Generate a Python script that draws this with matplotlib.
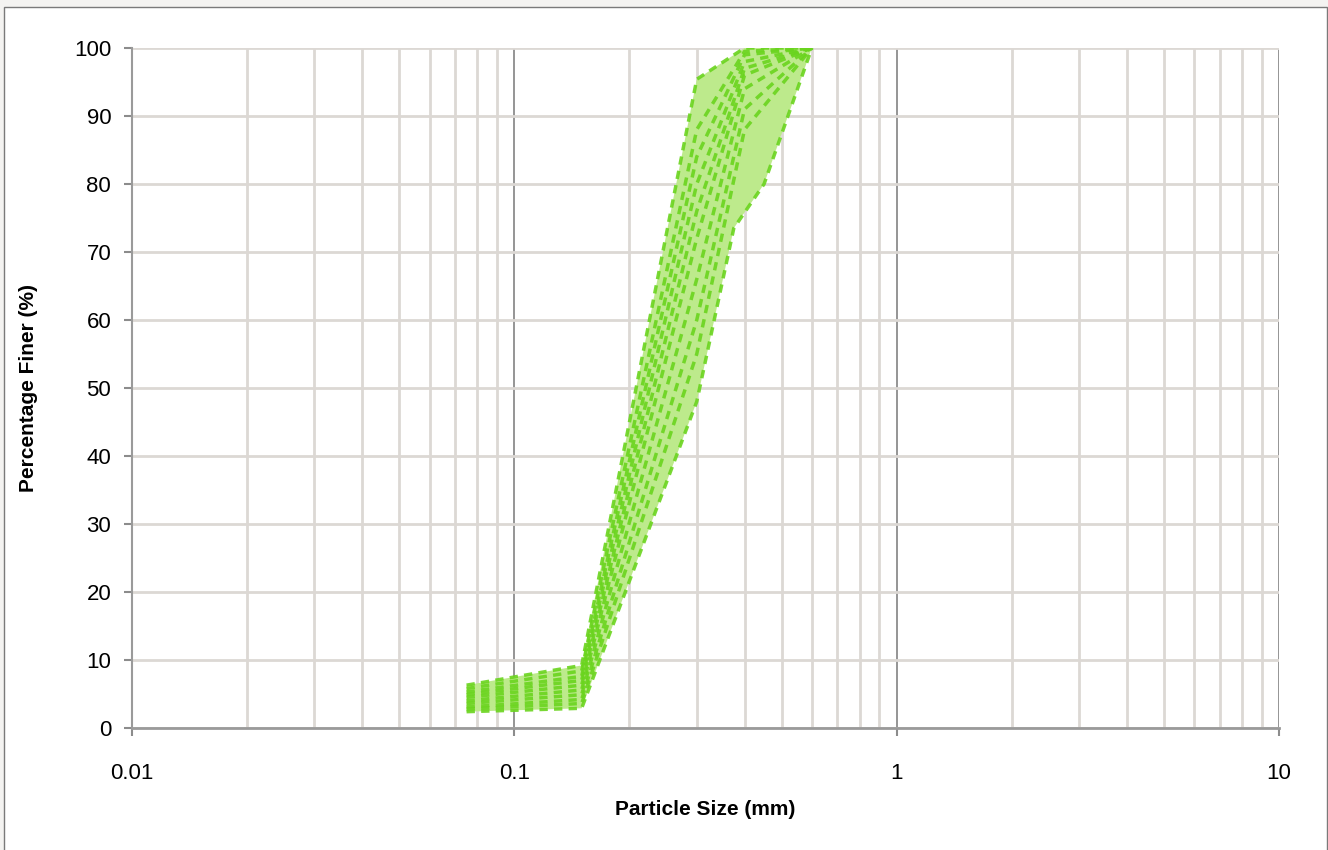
import matplotlib

matplotlib.use("Agg")
import matplotlib.pyplot as plt
from matplotlib.patches import Rectangle
from matplotlib.ticker import FixedLocator, NullFormatter


plt.rcParams["font.family"] = ["Liberation Sans", "DejaVu Sans"]

# sieve sizes (mm) shared by most samples
SIEVE_MM = [0.075, 0.15, 0.3, 0.4, 0.6]

# percentage finer for each sample
SAMPLE_1 = [6.3, 9.2, 95.4, 100, 100]
SAMPLE_2 = [5.8, 8.4, 88, 99.5, 100]
SAMPLE_3 = [5.3, 7.6, 84, 99, 100]
SAMPLE_4 = [4.9, 7.0, 80, 98, 100]
SAMPLE_5 = [4.5, 6.3, 76, 97, 100]
SAMPLE_6 = [4.0, 5.6, 72, 96, 100]
SAMPLE_7 = [3.6, 4.9, 66, 94, 100]
SAMPLE_8 = [3.1, 4.2, 60, 91, 100]
SAMPLE_9 = [2.8, 3.6, 55, 88, 100]

# coarsest sample was sieved on a different set
LOW_SIEVE_MM = [0.075, 0.15, 0.3, 0.375, 0.45, 0.6]
LOW_SAMPLE = [2.4, 2.9, 48, 73.5, 80, 100]

UPPER_SAMPLE = SAMPLE_1

Y_TICKS = list(range(0, 101, 10))
X_TICKS = [0.01, 0.1, 1, 10]
X_TICK_LABELS = ["0.01", "0.1", "1", "10"]

FILL_COLOR = "#bdea8c"
LINE_COLOR = "#6ad41e"
LIGHT_GRID = "#dcd8d4"
DARK_GRID = "#8c8c8c"


def draw_frame(figure):
    figure.patch.set_facecolor("#f4f3f1")
    frame = Rectangle(
        (4 / 1328, -0.01),
        1323 / 1328,
        1.01 - 7 / 850,
        transform=figure.transFigure,
        facecolor="white",
        edgecolor="#7a7a7a",
        linewidth=1.0,
        zorder=-10,
    )
    figure.patches.append(frame)


def main():
    figure = plt.figure(figsize=(13.28, 8.5), dpi=100)
    draw_frame(figure)
    axis = figure.add_axes([132 / 1328, 1 - 728 / 850, 1147 / 1328, 680 / 850])
    axis.set_facecolor("none")

    axis.set_xscale("log")
    axis.set_xlim(0.01, 10)
    axis.set_ylim(0, 100)

    # shaded envelope between finest and coarsest samples
    band_x = list(SIEVE_MM) + LOW_SIEVE_MM[::-1]
    band_y = list(UPPER_SAMPLE) + LOW_SAMPLE[::-1]
    axis.fill(band_x, band_y, color=FILL_COLOR, linewidth=0, zorder=2)

    samples = [
        SAMPLE_1, SAMPLE_2, SAMPLE_3, SAMPLE_4, SAMPLE_5,
        SAMPLE_6, SAMPLE_7, SAMPLE_8, SAMPLE_9,
    ]
    for sample in samples:
        axis.plot(SIEVE_MM, sample, color=LINE_COLOR, linewidth=2.5,
                  dashes=(2.4, 1.8), alpha=0.9, zorder=3)
    axis.plot(LOW_SIEVE_MM, LOW_SAMPLE, color=LINE_COLOR, linewidth=2.5,
              dashes=(2.4, 1.8), alpha=0.9, zorder=3)

    # grid
    axis.xaxis.set_major_locator(FixedLocator(X_TICKS))
    axis.xaxis.set_minor_locator(FixedLocator(
        [m * d for d in (0.01, 0.1, 1) for m in range(2, 10)]
    ))
    axis.xaxis.set_minor_formatter(NullFormatter())
    axis.set_xticklabels(X_TICK_LABELS)
    axis.set_yticks(Y_TICKS)

    axis.grid(which="minor", axis="x", color=LIGHT_GRID, linewidth=2.0, zorder=0)
    axis.grid(which="major", axis="y", color=LIGHT_GRID, linewidth=2.0, zorder=0)
    axis.grid(which="major", axis="x", color=DARK_GRID, linewidth=1.3, zorder=0)
    axis.set_axisbelow(True)

    for side in ("top", "right"):
        axis.spines[side].set_visible(False)
    axis.spines["bottom"].set_color("#9a9a9a")
    axis.spines["bottom"].set_linewidth(2.0)
    axis.spines["left"].set_color("#9a9a9a")
    axis.spines["left"].set_linewidth(1.5)

    axis.tick_params(axis="x", which="major", length=6, width=1.5, color="#8c8c8c",
                     pad=19, labelsize=16)
    axis.tick_params(axis="x", which="minor", length=0)
    axis.tick_params(axis="y", which="major", length=6, width=1.5, color="#8c8c8c",
                     pad=9, labelsize=16)

    axis.set_xlabel("Particle Size (mm)", fontsize=15, fontweight="bold", labelpad=12)
    axis.set_ylabel("Percentage Finer (%)", fontsize=15, fontweight="bold", labelpad=26)

    figure.savefig("out.png", dpi=100, facecolor=figure.get_facecolor())
    plt.close(figure)


if __name__ == "__main__":
    main()
